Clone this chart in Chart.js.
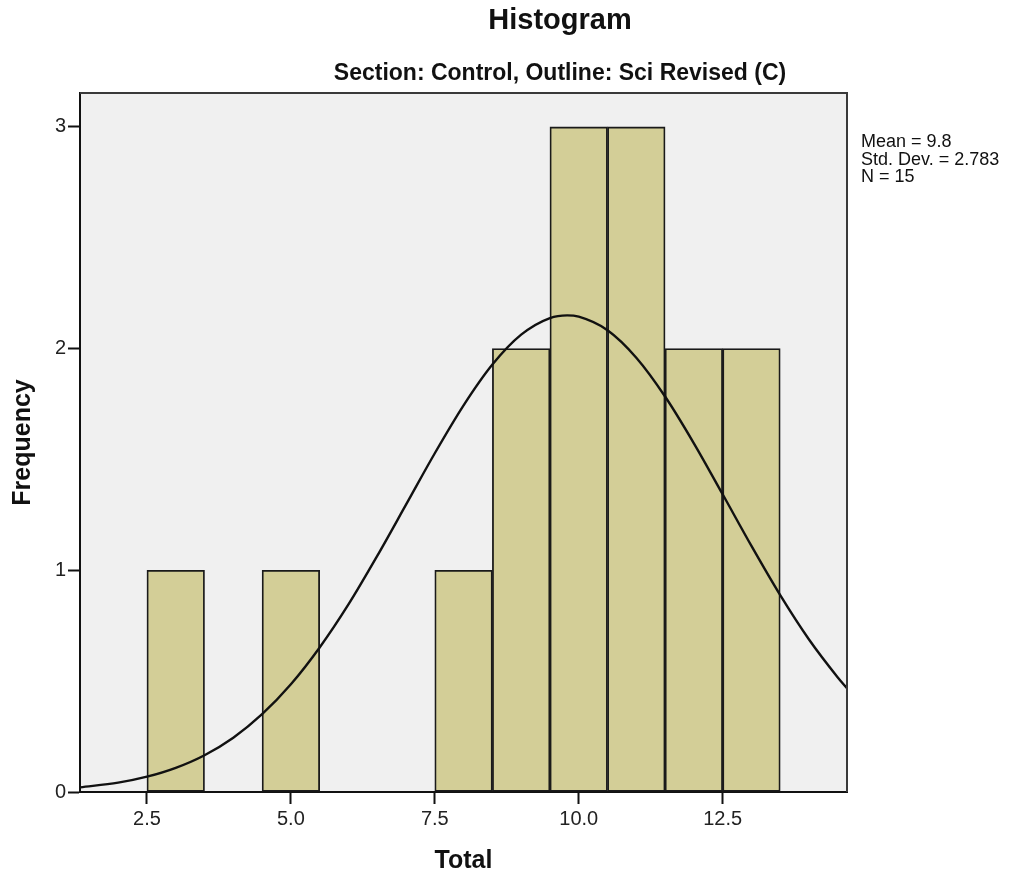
<!DOCTYPE html>
<html>
<head>
<meta charset="utf-8">
<script src="https://cdn.jsdelivr.net/npm/chart.js@4/dist/chart.umd.min.js"></script>
<style>
  html, body { margin: 0; padding: 0; background: #fff; }
  canvas { display: block; }
</style>
</head>
<body>
<canvas id="histo" width="1019" height="879"></canvas>
<script>
// bin centres (width 1) and counts
const binCentres = [3, 5, 8, 9, 10, 11, 12, 13];
const binCounts = [1, 1, 1, 2, 3, 3, 2, 2];

// normal curve
const curveX = [1.34, 2, 2.5, 3, 3.5, 4, 4.5, 5, 5.5, 6, 6.5, 7, 7.5, 8, 8.5, 9, 9.5, 9.8,
  10, 10.5, 11, 11.5, 12, 12.5, 13, 13.5, 14, 14.5, 14.66];
const curveY = [0.021, 0.042, 0.069, 0.109, 0.166, 0.245, 0.351, 0.486, 0.652, 0.846, 1.065, 1.296, 1.528, 1.744, 1.928, 2.063, 2.138, 2.150,
  2.144, 2.083, 1.959, 1.784, 1.573, 1.343, 1.110, 0.888, 0.688, 0.517, 0.468];

const xTicks = [2.5, 5.0, 7.5, 10.0, 12.5];
const yTicks = [0, 1, 2, 3];

const statLines = ['Mean = 9.8', 'Std. Dev. = 2.783', 'N = 15'];
const chartTitle = 'Histogram';
const chartSubtitle = 'Section: Control, Outline: Sci Revised (C)';

const FONT = '"Liberation Sans", Arial, sans-serif';

// plot background, frame, titles and the stats box
const decor = {
  id: 'decor',
  beforeDraw(chart) {
    const { ctx, chartArea: a } = chart;
    ctx.save();
    ctx.fillStyle = '#f0f0f0';
    ctx.fillRect(a.left, a.top, a.right - a.left, a.bottom - a.top);
    ctx.restore();
  },
  afterDraw(chart) {
    const { ctx, chartArea: a } = chart;
    ctx.save();
    ctx.strokeStyle = '#3a3a3a';
    ctx.lineWidth = 2;
    ctx.beginPath();
    ctx.moveTo(a.left, a.top);
    ctx.lineTo(a.right, a.top);
    ctx.lineTo(a.right, a.bottom);
    ctx.stroke();

    ctx.fillStyle = '#111';
    ctx.textAlign = 'center';
    ctx.textBaseline = 'alphabetic';
    ctx.font = 'bold 29px ' + FONT;
    ctx.fillText(chartTitle, 560, 29);
    ctx.font = 'bold 23px ' + FONT;
    ctx.fillText(chartSubtitle, 560, 80);

    ctx.textAlign = 'left';
    ctx.font = '18px ' + FONT;
    statLines.forEach((t, i) => ctx.fillText(t, 861, 147 + i * 17.5));
    ctx.restore();
  }
};

new Chart(document.getElementById('histo'), {
  type: 'bar',
  data: {
    datasets: [
      {
        type: 'line',
        data: curveX.map((x, i) => ({ x, y: curveY[i] })),
        borderColor: '#111',
        borderWidth: 2.4,
        pointRadius: 0,
        cubicInterpolationMode: 'monotone',
        fill: false,
        order: 0
      },
      {
        type: 'bar',
        data: binCentres.map((x, i) => ({ x, y: binCounts[i] })),
        backgroundColor: '#d3ce97',
        borderColor: '#1a1a1a',
        borderWidth: 1.8,
        borderSkipped: false,
        categoryPercentage: 1,
        barPercentage: 1,
        order: 1
      }
    ]
  },
  options: {
    responsive: false,
    animation: false,
    layout: { padding: { top: 93, right: 172, left: 0, bottom: 0 } },
    plugins: {
      legend: { display: false },
      tooltip: { enabled: false }
    },
    scales: {
      x: {
        type: 'linear',
        min: 1.337,
        max: 14.66,
        offset: false,
        afterFit(scale) { scale.height = 87; },
        afterBuildTicks(scale) { scale.ticks = xTicks.map(v => ({ value: v })); },
        ticks: {
          color: '#222',
          font: { family: FONT, size: 20 },
          padding: 3,
          maxRotation: 0,
          callback: v => Number(v).toFixed(1)
        },
        grid: { offset: false, drawOnChartArea: false, tickLength: 12, color: '#111', tickWidth: 2 },
        border: { display: true, color: '#111', width: 2 },
        title: {
          display: true,
          text: 'Total',
          color: '#111',
          font: { family: FONT, size: 25, weight: 'bold' },
          padding: { top: 0, bottom: 3 }
        }
      },
      y: {
        min: 0,
        max: 3.153,
        afterFit(scale) { scale.width = 80; },
        afterBuildTicks(scale) { scale.ticks = yTicks.map(v => ({ value: v })); },
        ticks: {
          color: '#222',
          font: { family: FONT, size: 20 },
          padding: 2
        },
        grid: { drawOnChartArea: false, tickLength: 12, color: '#111', tickWidth: 2 },
        border: { display: true, color: '#111', width: 2 },
        title: {
          display: true,
          text: 'Frequency',
          color: '#111',
          font: { family: FONT, size: 25, weight: 'bold' },
          padding: { top: 8, bottom: 0 }
        }
      }
    }
  },
  plugins: [decor]
});
</script>
</body>
</html>
